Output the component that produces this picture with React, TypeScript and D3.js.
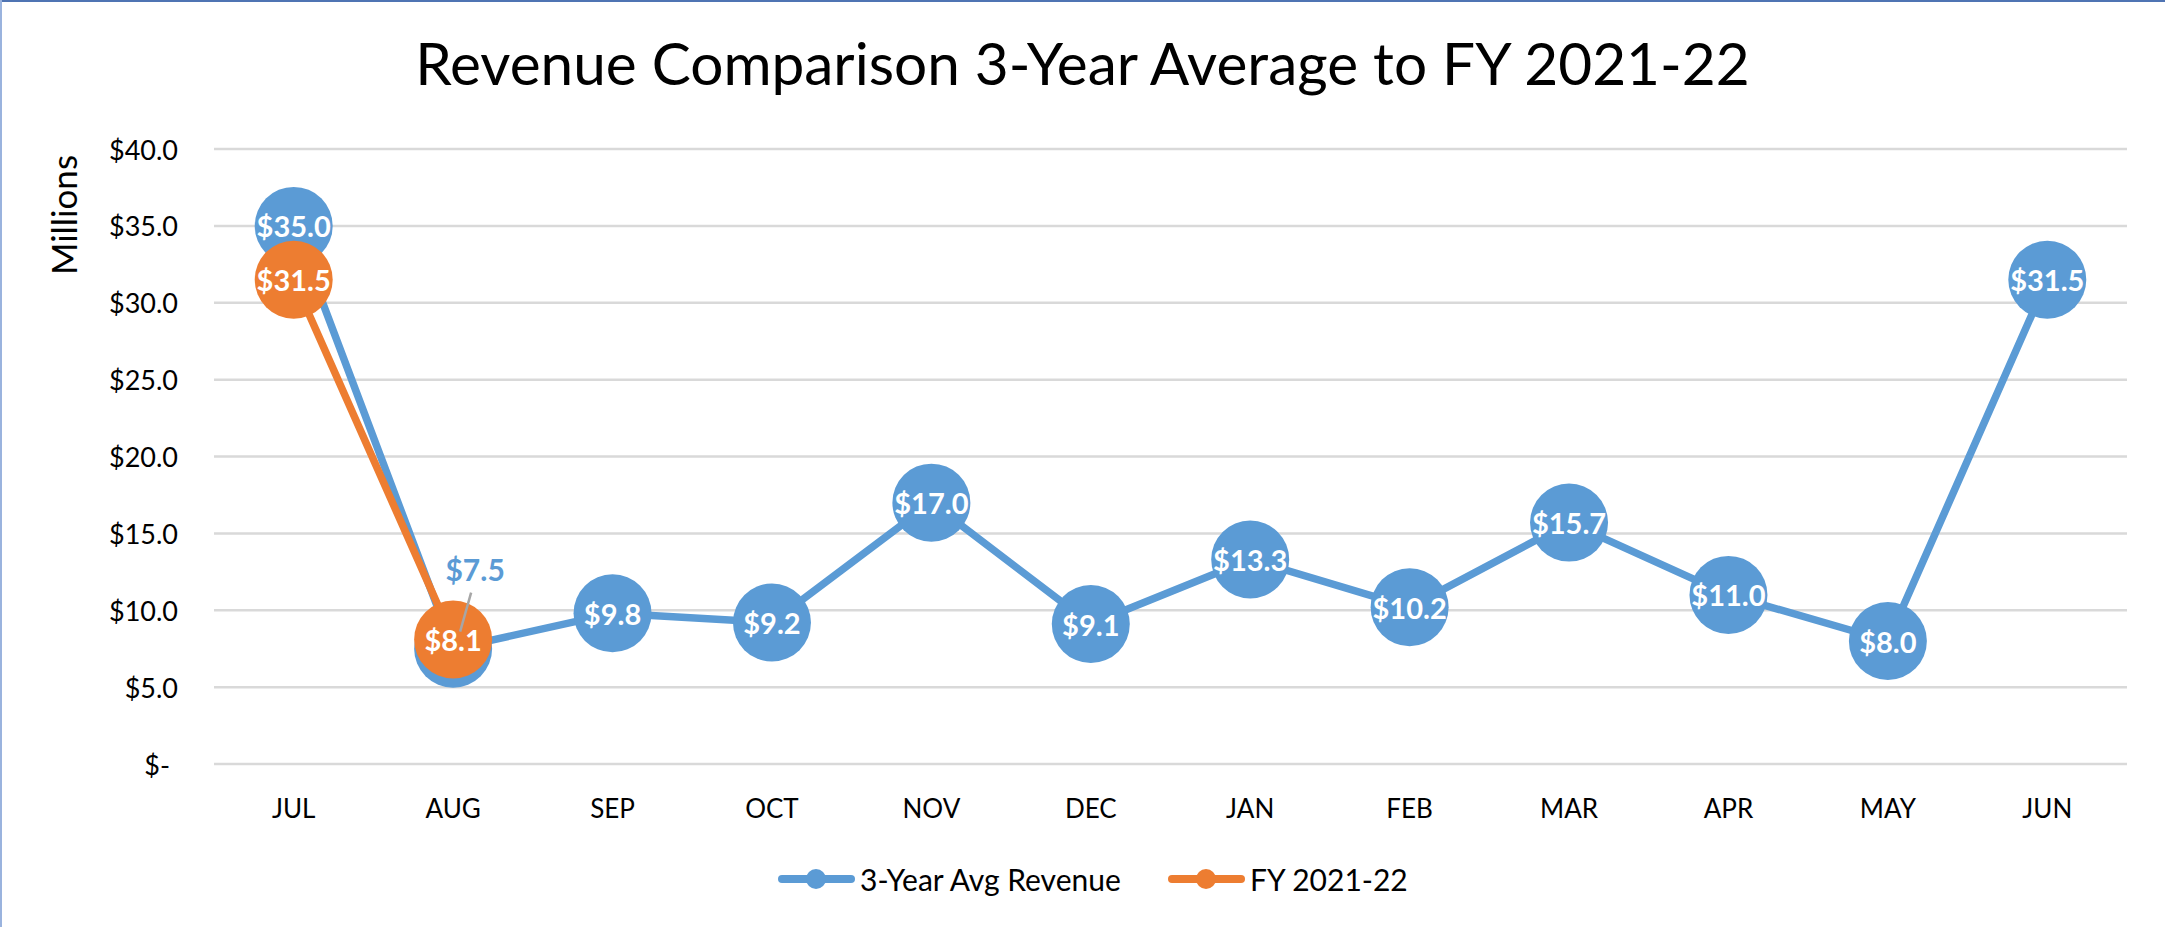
import React from 'react';
import * as d3 from 'd3';

const months = ['JUL', 'AUG', 'SEP', 'OCT', 'NOV', 'DEC', 'JAN', 'FEB', 'MAR', 'APR', 'MAY', 'JUN'];
const avgRevenue = [35.0, 7.5, 9.8, 9.2, 17.0, 9.1, 13.3, 10.2, 15.7, 11.0, 8.0, 31.5];
const fyMonths = ['JUL', 'AUG'];
const fyRevenue = [31.5, 8.1];
const yTicks = [0, 5, 10, 15, 20, 25, 30, 35, 40];
const seriesNames = ['3-Year Avg Revenue', 'FY 2021-22'];
const titleText = 'Revenue Comparison 3-Year Average to FY 2021-22';
const yAxisTitle = 'Millions';

const W = 2165;
const H = 927;
const BLUE = '#5B9BD5';
const ORANGE = '#ED7D31';
const FONT = 'Lato, "Open Sans", sans-serif';

export default function App() {
  const x = d3.scalePoint<string>().domain(months).range([214, 2127]).padding(0.5);
  const y = d3.scaleLinear().domain([0, 40]).range([764, 149]);
  const fmt = (v: number) => `$${v.toFixed(1)}`;
  const tickFmt = (v: number) => (v === 0 ? '$-' : `$${v.toFixed(1)}`);

  const line = d3
    .line<[string, number]>()
    .x((d) => x(d[0]) as number)
    .y((d) => y(d[1]));

  const blueData: [string, number][] = months.map((m, i) => [m, avgRevenue[i]]);
  const orangeData: [string, number][] = fyMonths.map((m, i) => [m, fyRevenue[i]]);
  const R = 39;
  const [x0, x1] = x.range();

  return (
    <svg
      width={W}
      height={H}
      style={{ position: 'absolute', left: 0, top: 0, background: '#fff' }}
      fontFamily={FONT}
    >
      <rect x={0} y={0} width={W} height={H} fill="#fff" />
      <line x1={0} y1={1} x2={W} y2={1} stroke="#4F74B3" strokeWidth={2} />
      <line x1={1} y1={0} x2={1} y2={H} stroke="#9AB3DE" strokeWidth={2} />

      <text x={W / 2} y={85} textAnchor="middle" fontSize={58.5} fill="#000">
        {titleText}
      </text>

      {yTicks.map((t) => (
        <g key={t}>
          <line x1={x0} x2={x1} y1={y(t)} y2={y(t)} stroke="#D9D9D9" strokeWidth={2.5} />
          <text
            x={t === 0 ? 170 : 178}
            y={y(t)}
            textAnchor="end"
            dominantBaseline="central"
            fontSize={27}
            fill="#000"
          >
            {tickFmt(t)}
          </text>
        </g>
      ))}

      <text
        transform={`translate(63, 215) rotate(-90)`}
        textAnchor="middle"
        dominantBaseline="central"
        fontSize={35}
        fill="#000"
      >
        {yAxisTitle}
      </text>

      {months.map((m) => (
        <text key={m} x={x(m)} y={808} textAnchor="middle" dominantBaseline="central" fontSize={26} fill="#000">
          {m}
        </text>
      ))}

      <path d={line(blueData) || ''} fill="none" stroke={BLUE} strokeWidth={7.5} strokeLinejoin="round" strokeLinecap="round" />
      {blueData.map((d) => (
        <circle key={'b' + d[0]} cx={x(d[0])} cy={y(d[1])} r={R} fill={BLUE} />
      ))}
      <path d={line(orangeData) || ''} fill="none" stroke={ORANGE} strokeWidth={7.5} strokeLinejoin="round" strokeLinecap="round" />
      {orangeData.map((d) => (
        <circle key={'o' + d[0]} cx={x(d[0])} cy={y(d[1])} r={R} fill={ORANGE} />
      ))}

      {blueData.map((d) => {
        if (d[0] === 'AUG') {
          const px = x(d[0]) as number;
          const py = y(d[1]);
          return (
            <g key={'bl' + d[0]}>
              <line x1={px + 18} y1={py - 56} x2={px + 7} y2={py - 17} stroke="#A6A6A6" strokeWidth={2.5} />
              <text x={px + 22} y={py - 80} textAnchor="middle" dominantBaseline="central" fontSize={30} fontWeight={700} fill={BLUE}>
                {fmt(d[1])}
              </text>
            </g>
          );
        }
        return (
          <text key={'bl' + d[0]} x={x(d[0])} y={y(d[1])} textAnchor="middle" dominantBaseline="central" fontSize={29} fontWeight={700} fill="#fff">
            {fmt(d[1])}
          </text>
        );
      })}
      {orangeData.map((d) => (
        <text key={'ol' + d[0]} x={x(d[0])} y={y(d[1])} textAnchor="middle" dominantBaseline="central" fontSize={29} fontWeight={700} fill="#fff">
          {fmt(d[1])}
        </text>
      ))}

      {[BLUE, ORANGE].map((c, i) => {
        const lx = i === 0 ? 778 : 1168;
        const ly = 879;
        return (
          <g key={c}>
            <line x1={lx + 4} x2={lx + 73} y1={ly} y2={ly} stroke={c} strokeWidth={8} strokeLinecap="round" />
            <circle cx={lx + 38} cy={ly} r={10} fill={c} />
            <text x={lx + 82} y={ly} dominantBaseline="central" fontSize={30} fill="#000">
              {seriesNames[i]}
            </text>
          </g>
        );
      })}
    </svg>
  );
}
